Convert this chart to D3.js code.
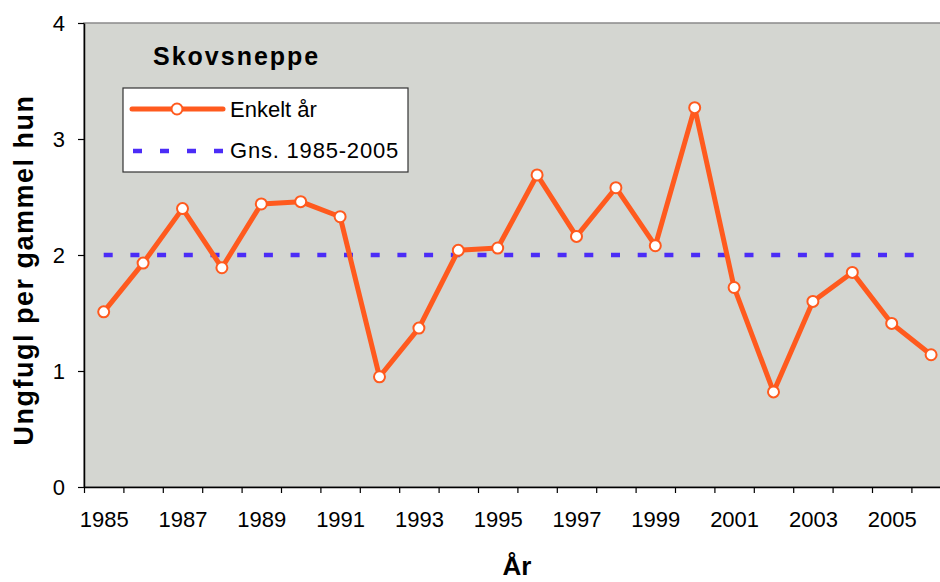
<!DOCTYPE html>
<html>
<head>
<meta charset="utf-8">
<script src="https://cdn.jsdelivr.net/npm/d3@7"></script>
<style>
  body { margin: 0; background: #fff; }
  svg { display: block; font-family: "Liberation Sans", Arial, sans-serif; }
</style>
</head>
<body>
<div id="chart"></div>
<script>
// data
const years = [1985, 1986, 1987, 1988, 1989, 1990, 1991, 1992, 1993, 1994, 1995,
               1996, 1997, 1998, 1999, 2000, 2001, 2002, 2003, 2004, 2005, 2006];
const enkeltAar = [1.51, 1.93, 2.40, 1.89, 2.44, 2.46, 2.33, 0.95, 1.37, 2.04, 2.06,
                   2.69, 2.16, 2.58, 2.08, 3.27, 1.72, 0.82, 1.60, 1.85, 1.41, 1.14];
const gnsValue = 2.0;
const yTicks = [0, 1, 2, 3, 4];
const xLabelYears = [1985, 1987, 1989, 1991, 1993, 1995, 1997, 1999, 2001, 2003, 2005];

const titleText = "Skovsneppe";
const seriesNames = ["Enkelt år", "Gns. 1985-2005"];
const xTitle = "År";
const yTitle = "Ungfugl per gammel hun";

const orange = "#FF5A1E";
const blue = "#4B2CF7";

function drawChart() {
    var w = 940, h = 582;
    var left = 84, top = 23, bottom = 487;
    var step = 39.4;

    var svg = d3.select("#chart")
                .append("svg")
                .attr("width", w)
                .attr("height", h);

    // x: one slot per year, points in the middle of each slot
    var xScale = d3.scaleLinear()
                   .domain([years[0] - 0.5, years[years.length - 1] + 0.5])
                   .range([left, left + step * years.length]);

    var yScale = d3.scaleLinear()
                   .domain([0, 4])
                   .range([bottom, top]);

    // plot area (runs past the right edge like the original)
    svg.append("rect")
        .attr("x", left)
        .attr("y", top)
        .attr("width", xScale.range()[1] - left)
        .attr("height", bottom - top)
        .attr("fill", "#D4D6D1")
        .attr("stroke", "#8a8a8a")
        .attr("stroke-width", 1.5);

    // x axis: tick marks on slot boundaries
    var boundaries = d3.range(years.length + 1).map(i => years[0] - 0.5 + i);
    var xTickAxis = d3.axisBottom(xScale)
                      .tickValues(boundaries)
                      .tickSize(6)
                      .tickSizeOuter(0)
                      .tickFormat("");
    var gx = svg.append("g")
        .attr("transform", "translate(0," + bottom + ")")
        .call(xTickAxis);
    gx.select(".domain").attr("stroke", "#000").attr("stroke-width", 1.5);
    gx.selectAll(".tick line").attr("stroke", "#000").attr("stroke-width", 1.2);

    // x labels on every second year
    var xLabelAxis = d3.axisBottom(xScale)
                       .tickValues(xLabelYears)
                       .tickSize(0)
                       .tickPadding(24)
                       .tickFormat(d3.format("d"));
    var gxl = svg.append("g")
        .attr("transform", "translate(0," + bottom + ")")
        .call(xLabelAxis);
    gxl.select(".domain").remove();
    gxl.selectAll("text")
        .attr("fill", "#000")
        .style("font-size", "22px")
        .style("font-family", "Liberation Sans, Arial, sans-serif");

    // y axis
    var yAxis = d3.axisLeft(yScale)
                  .tickValues(yTicks)
                  .tickSize(6)
                  .tickSizeOuter(0)
                  .tickPadding(13)
                  .tickFormat(d3.format("d"));
    var gy = svg.append("g")
        .attr("transform", "translate(" + left + ",0)")
        .call(yAxis);
    gy.select(".domain").attr("stroke", "#000").attr("stroke-width", 1.5);
    gy.selectAll(".tick line").attr("stroke", "#000").attr("stroke-width", 1.2);
    gy.selectAll("text")
        .attr("fill", "#000")
        .style("font-size", "22px")
        .style("font-family", "Liberation Sans, Arial, sans-serif");

    // average line (dashed)
    svg.append("line")
        .attr("x1", xScale(years[0]))
        .attr("x2", xScale(years[years.length - 1]))
        .attr("y1", yScale(gnsValue))
        .attr("y2", yScale(gnsValue))
        .attr("stroke", blue)
        .attr("stroke-width", 4.5)
        .attr("stroke-dasharray", "9,17.7");

    // yearly line
    var line = d3.line()
                 .x((d, i) => xScale(years[i]))
                 .y(d => yScale(d));

    svg.append("path")
        .datum(enkeltAar)
        .attr("fill", "none")
        .attr("stroke", orange)
        .attr("stroke-width", 5)
        .attr("stroke-linejoin", "round")
        .attr("d", line);

    svg.selectAll("circle.pt")
        .data(enkeltAar)
        .enter()
        .append("circle")
        .attr("class", "pt")
        .attr("cx", (d, i) => xScale(years[i]))
        .attr("cy", d => yScale(d))
        .attr("r", 5.5)
        .attr("fill", "#fff")
        .attr("stroke", orange)
        .attr("stroke-width", 2);

    // title inside plot
    svg.append("text")
        .attr("x", 153)
        .attr("y", 65)
        .style("font-size", "25px")
        .style("font-weight", "bold")
        .style("letter-spacing", "2px")
        .text(titleText);

    // legend
    var lg = svg.append("g").attr("transform", "translate(123,88)");
    lg.append("rect")
        .attr("width", 285)
        .attr("height", 84)
        .attr("fill", "#fff")
        .attr("stroke", "#333")
        .attr("stroke-width", 1.2);
    lg.append("line")
        .attr("x1", 9).attr("x2", 100)
        .attr("y1", 21).attr("y2", 21)
        .attr("stroke", orange)
        .attr("stroke-width", 5)
        .attr("stroke-linecap", "round");
    lg.append("circle")
        .attr("cx", 54).attr("cy", 21)
        .attr("r", 5.5)
        .attr("fill", "#fff")
        .attr("stroke", orange)
        .attr("stroke-width", 2);
    lg.append("line")
        .attr("x1", 10).attr("x2", 100)
        .attr("y1", 63).attr("y2", 63)
        .attr("stroke", blue)
        .attr("stroke-width", 4.5)
        .attr("stroke-dasharray", "9,18");
    lg.append("text")
        .attr("x", 107).attr("y", 29)
        .style("font-size", "22px")
        .text(seriesNames[0]);
    lg.append("text")
        .attr("x", 107).attr("y", 70)
        .style("font-size", "22px")
        .style("letter-spacing", "0.8px")
        .text(seriesNames[1]);

    // axis titles
    svg.append("text")
        .attr("text-anchor", "middle")
        .attr("x", 517)
        .attr("y", 575)
        .style("font-size", "26px")
        .style("font-weight", "bold")
        .text(xTitle);

    svg.append("text")
        .attr("text-anchor", "middle")
        .attr("transform", "rotate(-90)")
        .attr("x", -270)
        .attr("y", 33)
        .style("font-size", "27px")
        .style("font-weight", "bold")
        .style("letter-spacing", "1.5px")
        .text(yTitle);
}

drawChart();
</script>
</body>
</html>
